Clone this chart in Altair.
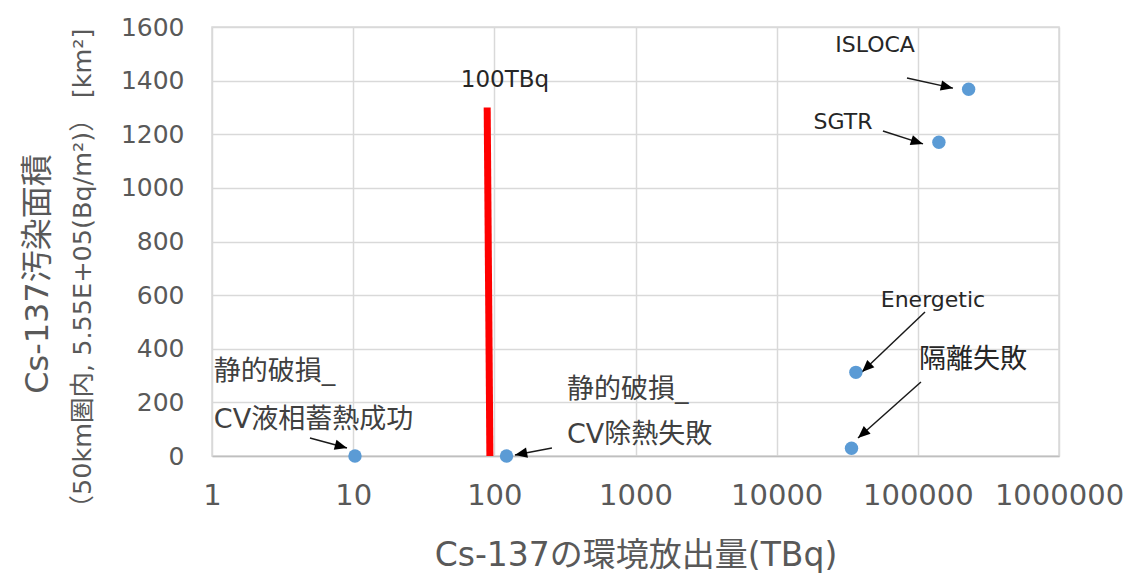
import math
import altair as alt
import pandas as pd

# ---- data ----
names = ["静的破損_CV液相蓄熱成功", "静的破損_CV除熱失敗", "隔離失敗", "Energetic", "SGTR", "ISLOCA"]
release_tbq = [10.3, 122, 33900, 36400, 141000, 229000]
area_km2 = [0, 0, 29, 312, 1170, 1368]

# 100 TBq reference line (slightly slanted in the original)
limit_x = [89, 93]
limit_y = [1300, 0]

x_ticks = [1, 10, 100, 1000, 10000, 100000, 1000000]
y_ticks = [0, 200, 400, 600, 800, 1000, 1200, 1400, 1600]

# annotation labels (data coordinates), centred
ann_c_text = ["ISLOCA", "SGTR", "Energetic", "隔離失敗", "100TBq"]
ann_c_x = [49800, 29500, 128000, 246000, 119]
ann_c_y = [1533, 1246, 582, 358, 1402]
ann_c_fs = [22, 22, 22, 27, 23]

# annotation labels, left aligned
ann_l_text = ["静的破損_", "CV液相蓄熱成功", "静的破損_", "CV除熱失敗"]
ann_l_x = [1.03, 1.03, 327, 327]
ann_l_y = [313, 134, 246, 78]

# arrows: start -> tip (data coordinates)
arr_x1 = [83800, 56600, 112400, 105200, 4.94, 256]
arr_y1 = [1410, 1212, 537, 276, 67, 30]
arr_x2 = [177400, 108800, 40200, 37700, 9.04, 140]
arr_y2 = [1372, 1164, 313, 67, 30, 4]

W, H = 847, 429
XMIN, XMAX = 1, 1000000
YMIN, YMAX = 0, 1600

FONT = "DejaVu Sans, Noto Sans CJK JP"
GRAY = "#595959"

pts = pd.DataFrame({"x": release_tbq, "y": area_km2, "name": names})
lim = pd.DataFrame({"x": [limit_x[0]], "x2": [limit_x[1]], "y": [limit_y[0]], "y2": [limit_y[1]]})
annc = pd.DataFrame({"x": ann_c_x, "y": ann_c_y, "t": ann_c_text, "fs": ann_c_fs})
annl = pd.DataFrame({"x": ann_l_x, "y": ann_l_y, "t": ann_l_text})


def screen_angle(x1, y1, x2, y2):
    dx = (math.log10(x2) - math.log10(x1)) * W / (math.log10(XMAX) - math.log10(XMIN))
    dy = -(y2 - y1) * H / (YMAX - YMIN)
    return math.degrees(math.atan2(dx, -dy)) % 360


arr = pd.DataFrame({
    "x": arr_x1, "y": arr_y1, "x2": arr_x2, "y2": arr_y2,
    "ang": [screen_angle(a, b, c, d) for a, b, c, d in zip(arr_x1, arr_y1, arr_x2, arr_y2)],
})

xscale = alt.Scale(type="log", domain=[XMIN, XMAX], nice=False)
yscale = alt.Scale(domain=[YMIN, YMAX], nice=False, zero=False)
xaxis = alt.Axis(
    title="Cs-137の環境放出量(TBq)", values=x_ticks, format="d",
    labelFontSize=29, labelPadding=25, labelOverlap=False, labelFlush=False, labelBound=False,
    titleFontSize=33, titleY=99, titleBaseline="middle", titleFontWeight="normal",
)
yaxis = alt.Axis(
    title="（50km圏内, 5.55E+05(Bq/m²)）  [km²]", values=y_ticks, format="d",
    labelFontSize=25, labelPadding=28, labelOverlap=False,
    titleFontSize=25.5, titleAngle=270,
    titleX=-130, titleY=247, titleAlign="center", titleBaseline="middle",
    titleFontWeight="normal",
)


def X(f="x"):
    return alt.X(f + ":Q", scale=xscale, axis=xaxis)


def Y(f="y"):
    return alt.Y(f + ":Q", scale=yscale, axis=yaxis)


points = alt.Chart(pts).mark_circle(size=180, color="#5b9bd5", opacity=1).encode(x=X(), y=Y())

limit = alt.Chart(lim).mark_rule(color="#ff0000", strokeWidth=7).encode(
    x=X(), x2="x2:Q", y=Y(), y2="y2:Q"
)

arrow_lines = alt.Chart(arr).mark_rule(color="#1a1a1a", strokeWidth=1.5).encode(
    x=X(), x2="x2:Q", y=Y(), y2="y2:Q"
)

arrow_heads = alt.Chart(arr).mark_point(
    shape="M0,0 L-0.42,1 L0.42,1 Z", filled=True, color="#000000", opacity=1, size=600
).encode(
    x=alt.X("x2:Q", scale=xscale, axis=xaxis),
    y=alt.Y("y2:Q", scale=yscale, axis=yaxis),
    angle=alt.Angle("ang:Q", scale=None),
)

text_c = alt.Chart(annc).mark_text(
    align="center", baseline="middle", font=FONT, color="#262626"
).encode(x=X(), y=Y(), text="t:N", size=alt.Size("fs:Q", scale=None))

text_l = alt.Chart(annl).mark_text(
    align="left", baseline="middle", font=FONT, color="#404040", fontSize=27
).encode(x=X(), y=Y(), text="t:N")

ytitle1 = alt.Chart(pd.DataFrame({"t": ["Cs-137汚染面積"]})).mark_text(
    align="center", baseline="middle", font=FONT, color=GRAY, fontSize=32, angle=270
).encode(x=alt.value(-174), y=alt.value(247), text="t:N")

chart = alt.layer(
    limit, arrow_lines, arrow_heads, points, text_c, text_l, ytitle1
).properties(
    width=W, height=H,
    autosize=alt.AutoSizeParams(type="none"),
    padding={"left": 204, "top": 19, "right": 74, "bottom": 120},
).configure_view(
    stroke="#d9d9d9", strokeWidth=1.5
).configure_axis(
    grid=True, gridColor="#d9d9d9", gridWidth=1.5,
    domainColor="#bfbfbf", domainWidth=1.5,
    ticks=False, tickSize=0,
    labelColor=GRAY, titleColor=GRAY, labelFont=FONT, titleFont=FONT,
).configure_axisY(domain=False)

chart.save("out.html", embed_options={"renderer": "svg", "actions": False})
